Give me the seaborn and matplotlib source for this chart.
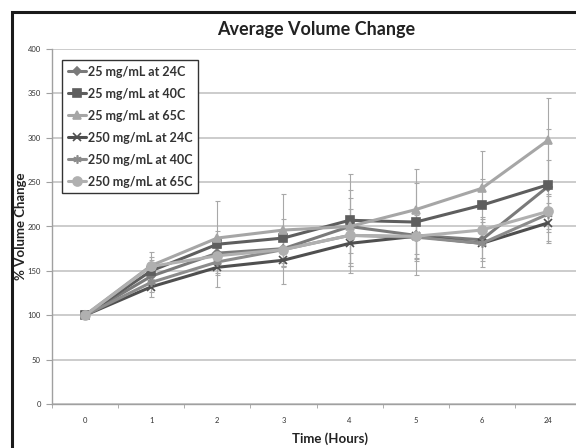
import numpy as np
import pandas as pd
import matplotlib
matplotlib.use("Agg")
import matplotlib.pyplot as plt
import seaborn as sns
from matplotlib.patches import Rectangle

# данные графика
times = ['0', '1', '2', '3', '4', '5', '6', '24']
series = ['25 mg/mL at 24C', '25 mg/mL at 40C', '25 mg/mL at 65C',
          '250 mg/mL at 24C', '250 mg/mL at 40C', '250 mg/mL at 65C']

v25_24 = [100, 144, 170, 175, 200, 190, 185, 245]
v25_40 = [100, 150, 180, 187, 207, 205, 224, 247]
v25_65 = [100, 156, 187, 196, 200, 219, 243, 297]
v250_24 = [100, 132, 154, 162, 181, 189, 181, 204]
v250_40 = [100, 137, 160, 174, 190, 188, 181, 214]
v250_65 = [100, 155, 167, 174, 190, 189, 196, 217]

e25_24 = [0, 10, 12, 20, 41, 25, 20, 30]
e25_40 = [0, 12, 15, 22, 52, 60, 30, 63]
e25_65 = [0, 15, 42, 41, 20, 30, 42, 48]
e250_24 = [0, 11, 22, 27, 25, 28, 27, 23]
e250_40 = [0, 11, 12, 20, 20, 25, 20, 20]
e250_65 = [0, 11, 10, 15, 42, 20, 15, 20]

values = [v25_24, v25_40, v25_65, v250_24, v250_40, v250_65]
errors = [e25_24, e25_40, e25_65, e250_24, e250_40, e250_65]

colors = ['#7a7a7a', '#5e5e5e', '#a6a6a6', '#4f4f4f', '#8c8c8c', '#b0b0b0']
markers = ['D', 's', '^', 'x', (6, 2, 0), 'o']
msizes = [4.5, 5.5, 6, 5.5, 6, 6.5]

sns.set_style('white')
plt.rcParams['font.family'] = ['Lato', 'DejaVu Sans']

fig = plt.figure(figsize=(5.76, 4.48), dpi=100)
ax = fig.add_axes([52 / 576, 44 / 448, 529 / 576, 355 / 448])

# рамка вокруг всего графика
fig.patches.append(Rectangle((12, -20), 700, 456, transform=None,
                             fill=False, edgecolor='#1a1a1a', linewidth=2.2))

ax.set_ylim(0, 400)
ax.set_xlim(-0.5, 7.5)
ax.set_yticks(range(0, 401, 50))
ax.yaxis.grid(True, color='#c4c4c4', linewidth=1.2)
ax.set_axisbelow(True)

pos = np.arange(len(times))

# планки погрешностей
for vals, errs in zip(values, errors):
    ax.errorbar(pos, vals, yerr=errs, fmt='none',
                ecolor='#a8a8a8', elinewidth=0.8, capsize=1.8, capthick=0.8, zorder=2)

for name, vals, c, m, ms in zip(series, values, colors, markers, msizes):
    sns.lineplot(x=pos, y=vals, color=c, marker=m, markersize=ms,
                 markeredgecolor=c, markeredgewidth=1.2, linewidth=2.2,
                 label=name, ax=ax, zorder=3)

ax.set_xticks(pos)
ax.set_xticklabels(times, fontsize=5.5, color='#333333')
ax.set_xticks(np.arange(-0.5, 7.6, 1), minor=True)
ax.tick_params(axis='x', which='major', length=0, pad=9)
ax.tick_params(axis='x', which='minor', length=3, color='#a0a0a0', direction='out', bottom=True)
ax.tick_params(axis='y', labelsize=5.5, labelcolor='#333333', length=4,
               color='#a0a0a0', direction='out', left=True, pad=4)

for side in ['top', 'right']:
    ax.spines[side].set_visible(False)
ax.spines['left'].set_color('#a0a0a0')
ax.spines['bottom'].set_color('#a0a0a0')
ax.spines['left'].set_linewidth(1.0)
ax.spines['bottom'].set_linewidth(1.0)

ax.set_xlabel('Time (Hours)', fontsize=9.5, fontweight='bold', color='#222222')
ax.set_ylabel('% Volume Change', fontsize=9.5, fontweight='bold', color='#222222')
ax.xaxis.set_label_coords(278 / 529, -28 / 355)
ax.yaxis.set_label_coords(-25 / 529, 0.5)
fig.text(316 / 576, 1 - 30 / 448, 'Average Volume Change', ha='center', va='center',
         fontsize=13, fontweight='bold', color='#222222')

handles, labels = ax.get_legend_handles_labels()
leg = ax.legend(handles, labels, loc='upper left', bbox_to_anchor=(10 / 529, 344 / 355),
                frameon=True, fancybox=False, edgecolor='#333333', framealpha=1,
                prop={'size': 9, 'weight': 'bold'}, handlelength=1.5, handletextpad=0.1,
                labelspacing=0.8, borderpad=0.45, borderaxespad=0)
leg.get_frame().set_linewidth(1.0)
for t in leg.get_texts():
    t.set_color('#333333')

plt.savefig('out.png', dpi=100)
